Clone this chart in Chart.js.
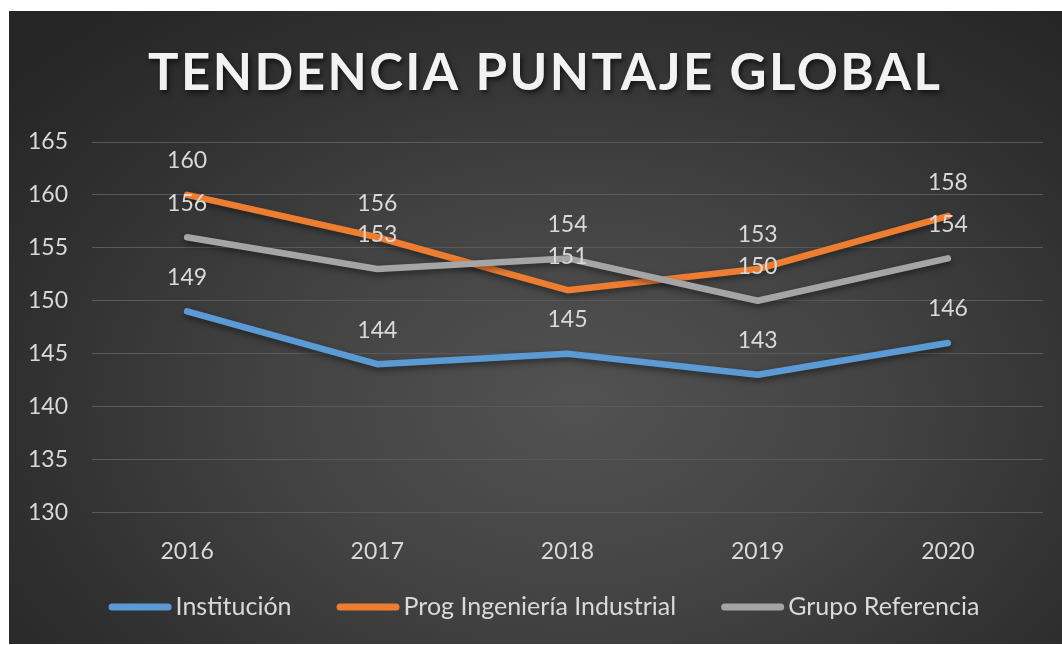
<!DOCTYPE html>
<html>
<head>
<meta charset="utf-8">
<script src="https://cdn.jsdelivr.net/npm/chart.js@4.4.1/dist/chart.umd.min.js"></script>
<style>
  html, body { margin: 0; padding: 0; background: #fff; }
  #wrap {
    position: absolute; left: 9px; top: 11px; width: 1053px; height: 633px;
    background: radial-gradient(ellipse 70% 80% at 54% 62%, #525252 0%, #434343 40%, #303030 75%, #262626 100%);
  }
  canvas { display: block; }
</style>
</head>
<body>
<div id="wrap"><canvas id="chart" width="1053" height="633"></canvas></div>
<script>
// DATA
const years = ['2016', '2017', '2018', '2019', '2020'];
const institucion = [149, 144, 145, 143, 146];
const progIndustrial = [160, 156, 151, 153, 158];
const grupoReferencia = [156, 153, 154, 150, 154];
const yTicks = [130, 135, 140, 145, 150, 155, 160, 165];

const titleText = 'TENDENCIA PUNTAJE GLOBAL';
const txt = '#d9d9d9';
const font = 'Lato, "Open Sans", sans-serif';

// TITLE (letter spaced, with shadow)
const titlePlugin = {
  id: 'titlePlugin',
  afterDraw(chart) {
    const ctx = chart.ctx;
    ctx.save();
    ctx.font = 'bold 51px ' + font;
    ctx.letterSpacing = '0px';
    const w0 = ctx.measureText(titleText).width;
    const target = 792;
    const sp = (target - w0) / (titleText.length - 1);
    ctx.letterSpacing = sp + 'px';
    ctx.textAlign = 'left';
    ctx.textBaseline = 'alphabetic';
    ctx.shadowColor = 'rgba(0,0,0,0.6)';
    ctx.shadowBlur = 5;
    ctx.shadowOffsetX = 2;
    ctx.shadowOffsetY = 3;
    ctx.fillStyle = '#f2f2f2';
    ctx.fillText(titleText, 535 - target / 2, 79);
    ctx.restore();
  }
};

// line shadows
const shadowPlugin = {
  id: 'shadowPlugin',
  beforeDatasetDraw(chart) {
    const ctx = chart.ctx;
    ctx.save();
    ctx.shadowColor = 'rgba(0,0,0,0.45)';
    ctx.shadowBlur = 6;
    ctx.shadowOffsetY = 3;
  },
  afterDatasetDraw(chart) {
    chart.ctx.restore();
  }
};

// DATA LABELS (above each point)
const labelPlugin = {
  id: 'labelPlugin',
  afterDatasetsDraw(chart) {
    const ctx = chart.ctx;
    ctx.save();
    ctx.font = '23px ' + font;
    ctx.fillStyle = txt;
    ctx.textAlign = 'center';
    ctx.textBaseline = 'middle';
    chart.data.datasets.forEach((ds, i) => {
      chart.getDatasetMeta(i).data.forEach((pt, j) => {
        ctx.fillText(String(ds.data[j]), pt.x, pt.y - 34);
      });
    });
    ctx.restore();
  }
};

// LEGEND (thick rounded line samples)
const legendPlugin = {
  id: 'legendPlugin',
  afterDraw(chart) {
    const ctx = chart.ctx;
    const lineW = 56, gap = 4, spacing = 45, y = 596;
    ctx.save();
    ctx.font = '25px ' + font;
    const items = chart.data.datasets.map(ds => ({
      text: ds.label, color: ds.borderColor, w: ctx.measureText(ds.label).width
    }));
    let total = 0;
    items.forEach((it, i) => { total += lineW + 7 + gap + it.w + (i ? spacing : 0); });
    let x = 535 - total / 2;
    items.forEach(it => {
      ctx.strokeStyle = it.color;
      ctx.lineWidth = 7;
      ctx.lineCap = 'round';
      ctx.beginPath();
      ctx.moveTo(x + 3.5, y);
      ctx.lineTo(x + 3.5 + lineW, y);
      ctx.stroke();
      x += lineW + 7 + gap;
      ctx.fillStyle = txt;
      ctx.textAlign = 'left';
      ctx.textBaseline = 'middle';
      ctx.fillText(it.text, x, y);
      x += it.w + spacing;
    });
    ctx.restore();
  }
};

const lineDs = (label, data, color, order) => ({
  label, data,
  borderColor: color, backgroundColor: color,
  borderWidth: 6.5, borderCapStyle: 'round', borderJoinStyle: 'round',
  pointRadius: 0, pointHoverRadius: 0, tension: 0, order
});

new Chart(document.getElementById('chart'), {
  type: 'line',
  data: {
    labels: years,
    datasets: [
      lineDs('Institución', institucion, '#5b9bd5', 2),
      lineDs('Prog Ingeniería Industrial', progIndustrial, '#ed7d31', 1),
      lineDs('Grupo Referencia', grupoReferencia, '#a5a5a5', 0)
    ]
  },
  options: {
    responsive: false,
    animation: false,
    layout: { padding: { top: 131, left: 0, right: 19, bottom: 54 } },
    plugins: {
      legend: { display: false },
      title: { display: false },
      tooltip: { enabled: false }
    },
    scales: {
      x: {
        offset: true,
        grid: { display: false, drawTicks: false },
        border: { display: false },
        ticks: { color: txt, font: { size: 23, family: font }, padding: 25 }
      },
      y: {
        min: 130, max: 165,
        afterFit: s => { s.width = 83; },
        afterBuildTicks: s => { s.ticks = yTicks.map(v => ({ value: v })); },
        grid: { color: '#5a5a5a', lineWidth: 1, drawTicks: false },
        border: { display: false },
        ticks: { color: txt, font: { size: 23, family: font }, padding: 24 }
      }
    }
  },
  plugins: [shadowPlugin, labelPlugin, titlePlugin, legendPlugin]
});
</script>
</body>
</html>
